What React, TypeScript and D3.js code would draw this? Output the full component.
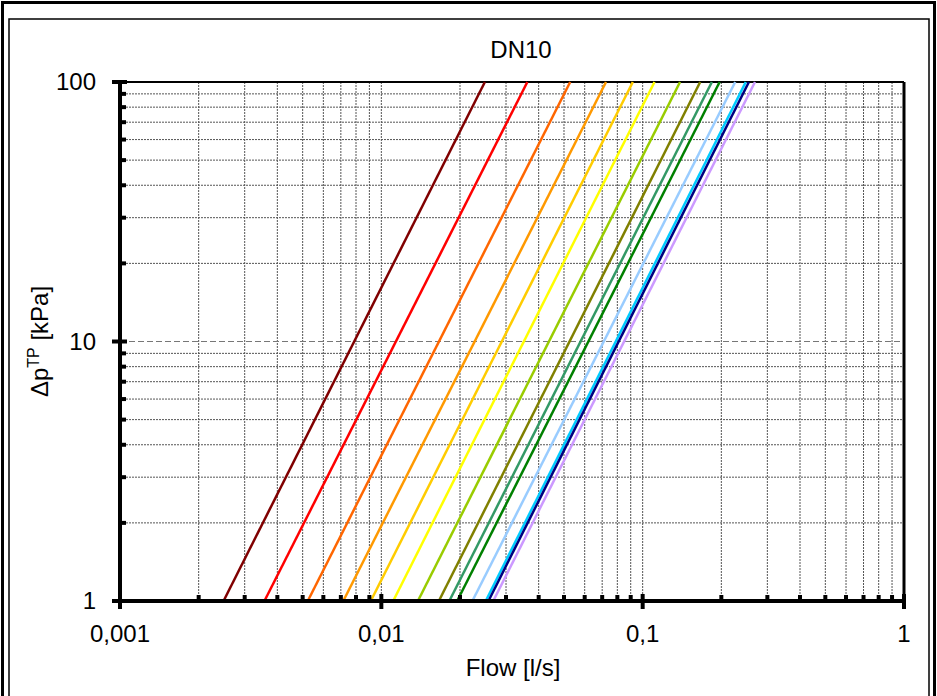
import React from 'react';
import * as d3 from 'd3';

// flow [l/s] at which each curve crosses 1 kPa and 100 kPa
const flowAt1kPa = [0.00249, 0.00357, 0.00523, 0.00715, 0.00911, 0.0111, 0.0138, 0.0166, 0.0182, 0.0195, 0.0223, 0.0251, 0.0257, 0.0268];
const flowAt100kPa = [0.0249, 0.0362, 0.0528, 0.0724, 0.0917, 0.111, 0.139, 0.166, 0.184, 0.197, 0.226, 0.248, 0.255, 0.269];
const seriesColors = ['#800000', '#FF0000', '#FF6600', '#FF9900', '#FFCC00', '#FFFF00', '#99CC00', '#808000', '#339966', '#008000', '#99CCFF', '#00CCFF', '#000080', '#CC99FF'];

const xMajor = [0.001, 0.01, 0.1, 1];
const xLabels = ['0,001', '0,01', '0,1', '1'];
const yMajor = [1, 10, 100];
const yLabels = ['1', '10', '100'];

const W = 937;
const H = 696;
const margin = { left: 120, right: 33, top: 82, bottom: 95 };
const FONT = '"Liberation Sans", Arial, sans-serif';

const minorsOf = (majors: number[]) =>
  majors.slice(0, -1).flatMap(m => [2, 3, 4, 5, 6, 7, 8, 9].map(k => m * k));

export default function App() {
  if (typeof document !== 'undefined') document.body.style.margin = '0';

  const x = d3.scaleLog().domain([0.001, 1]).range([margin.left, W - margin.right]);
  const y = d3.scaleLog().domain([1, 100]).range([H - margin.bottom, margin.top]);
  const [x0, x1] = x.range();
  const [y0, y1] = y.range();

  const xMinor = minorsOf(xMajor);
  const yMinor = minorsOf(yMajor);

  const line = d3.line<[number, number]>()
    .x(d => x(d[0]))
    .y(d => y(d[1]));

  return (
    <svg width={W} height={H} style={{ display: 'block' }} fontFamily={FONT}>
      <rect x={0} y={0} width={W} height={H} fill="#fff" />
      <rect x={2.5} y={2.5} width={W - 5} height={H + 10} fill="none" stroke="#000" strokeWidth={3} />
      <rect x={9} y={19} width={W - 17} height={H + 10} fill="none" stroke="#000" strokeWidth={1.5} />

      <text x={521} y={58} textAnchor="middle" fontSize={24}>DN10</text>

      {/* grid */}
      {xMinor.concat([0.01, 0.1]).map((v, i) => (
        <line key={'gx' + i} x1={x(v)} x2={x(v)} y1={y1} y2={y0} stroke="#555" strokeWidth={1} strokeDasharray="2,1" />
      ))}
      {yMinor.map((v, i) => (
        <line key={'gy' + i} x1={x0} x2={x1} y1={y(v)} y2={y(v)} stroke="#555" strokeWidth={1} strokeDasharray="2,1" />
      ))}
      <line x1={x0} x2={x1} y1={y(10)} y2={y(10)} stroke="#777" strokeWidth={1} strokeDasharray="6,3" />

      {/* plot frame */}
      <line x1={x0} x2={x1} y1={y1} y2={y1} stroke="#000" strokeWidth={2} />
      <line x1={x1} x2={x1} y1={y1} y2={y0} stroke="#000" strokeWidth={3} />

      {/* curves */}
      {flowAt1kPa.map((q, i) => (
        <path key={'s' + i}
          d={line([[q, 1], [flowAt100kPa[i], 100]]) || ''}
          fill="none" stroke={seriesColors[i]} strokeWidth={2.5} />
      ))}

      {/* axes */}
      <line x1={x0} x2={x0} y1={y1} y2={y0 + 2} stroke="#000" strokeWidth={4} />
      <line x1={x0 - 2} x2={x1 + 1} y1={y0} y2={y0} stroke="#000" strokeWidth={4} />
      {yMinor.map((v, i) => (
        <line key={'ty' + i} x1={x0} x2={x0 + 6} y1={y(v)} y2={y(v)} stroke="#000" strokeWidth={4} />
      ))}
      {yMajor.map((v, i) => (
        <line key={'tY' + i} x1={x0 - 8} x2={x0 + 7} y1={y(v)} y2={y(v)} stroke="#000" strokeWidth={4} />
      ))}
      {xMinor.map((v, i) => (
        <line key={'tx' + i} x1={x(v)} x2={x(v)} y1={y0} y2={y0 - 6} stroke="#000" strokeWidth={4} />
      ))}
      {xMajor.map((v, i) => (
        <line key={'tX' + i} x1={x(v)} x2={x(v)} y1={y0 + 8} y2={y0 - 7} stroke="#000" strokeWidth={4} />
      ))}

      {/* tick labels */}
      {yMajor.map((v, i) => (
        <text key={'ly' + i} x={x0 - 24} y={y(v)} dy="0.35em" textAnchor="end" fontSize={24}>{yLabels[i]}</text>
      ))}
      {xMajor.map((v, i) => (
        <text key={'lx' + i} x={x(v)} y={y0 + 41} textAnchor="middle" fontSize={24}>{xLabels[i]}</text>
      ))}

      <text x={513} y={676} textAnchor="middle" fontSize={24}>Flow [l/s]</text>
      <text transform={`translate(48,${(y0 + y1) / 2}) rotate(-90)`} textAnchor="middle" fontSize={24}>
        Δp<tspan dy={-9} fontSize={16}>TP</tspan><tspan dy={9}> [kPa]</tspan>
      </text>
    </svg>
  );
}
